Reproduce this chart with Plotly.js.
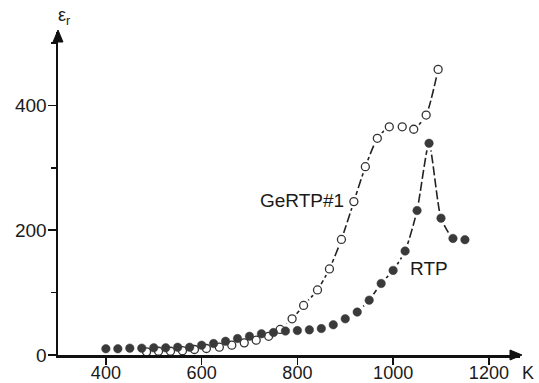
<!DOCTYPE html>
<html>
<head>
<meta charset="utf-8">
<script src="https://cdn.plot.ly/plotly-3.0.1.min.js"></script>
<style>html,body{margin:0;padding:0;background:#fff;}#chart{width:539px;height:383px;}</style>
</head>
<body>
<div id="chart"></div>
<script>
// RTP (filled circles)
const rtpT = [400,425,450,475,500,525,550,575,600,625,650,675,700,725,750,775,800,825,850,875,900,925,950,975,1000,1025,1050,1075,1100,1125,1150];
const rtpE = [10,10,11,11,11.5,11.5,12.5,12.5,15.7,18.4,22,26.4,30,34,36,38.4,39.2,40.3,42.4,48.5,58,68.8,88,114.7,135.7,166.7,231.7,339.5,219.5,187,185];
// GeRTP#1 (open circles)
const gerT = [485,510,535,560,585,610,637,663,689,714,740,764,789,813,842,867,892,918,942,967,992,1019,1043,1069,1094];
const gerE = [5,6,6,7,8.8,10.4,12.5,15.7,19.5,23.7,30,41,58,79.5,104.3,138,185.3,246,302,347.5,366,366,362,384.8,458];
const xTicks = [400,600,800,1000,1200];
const yTicks = [0,200,400];
const rtpLineStart = 18;   // index from which the dashed line is drawn
const gerLineStart = 7;

const FONT = 'Liberation Sans, Arial, Helvetica, sans-serif';
const DASH = '9px,3px';

const traces = [
  {x: gerT.slice(gerLineStart), y: gerE.slice(gerLineStart), mode: 'lines',
   line: {color: '#222', width: 1.6, dash: DASH, shape: 'spline', smoothing: 0.6}, hoverinfo: 'skip'},
  {x: rtpT.slice(rtpLineStart), y: rtpE.slice(rtpLineStart), mode: 'lines',
   line: {color: '#222', width: 1.6, dash: DASH, shape: 'spline', smoothing: 0.6}, hoverinfo: 'skip'},
  // white halos to open gaps in the lines around markers
  {x: gerT, y: gerE, mode: 'markers', marker: {size: 14, color: '#fff', line: {width: 0}}, hoverinfo: 'skip'},
  {x: rtpT, y: rtpE, mode: 'markers', marker: {size: 15, color: '#fff', line: {width: 0}}, hoverinfo: 'skip'},
  {x: gerT, y: gerE, mode: 'markers', name: 'GeRTP#1',
   marker: {size: 8, color: '#fff', line: {color: '#333', width: 1.3}}},
  {x: rtpT, y: rtpE, mode: 'markers', name: 'RTP',
   marker: {size: 8.5, color: '#3a3a3a', line: {color: '#3a3a3a', width: 0.5}}}
];

const layout = {
  width: 539, height: 383,
  margin: {l: 58, r: 19, t: 32, b: 27.5},
  paper_bgcolor: '#fff', plot_bgcolor: '#fff',
  showlegend: false,
  font: {family: FONT, size: 19, color: '#1a1a1a'},
  xaxis: {
    range: [300, 1265], showgrid: false, zeroline: false,
    showline: true, linecolor: '#111', linewidth: 2.5,
    ticks: 'outside', ticklen: 7, tickwidth: 1.6, tickcolor: '#111',
    tickvals: xTicks, ticktext: xTicks.map(String),
    ticklabelstandoff: -7,
    tickfont: {family: FONT, size: 18, color: '#1a1a1a'}
  },
  yaxis: {
    range: [0, 518], showgrid: false, zeroline: false,
    showline: true, linecolor: '#111', linewidth: 2.5,
    ticks: 'outside', ticklen: 8, tickwidth: 1.6, tickcolor: '#111',
    tickvals: yTicks, ticktext: yTicks.map(String),
    ticklabelstandoff: -3,
    minor: {dtick: 100, ticks: 'outside', ticklen: 5, tickwidth: 1.6, tickcolor: '#111', showgrid: false},
    tickfont: {family: FONT, size: 19, color: '#1a1a1a'}
  },
  shapes: [
    // arrow heads on axes (pixel-sized triangles)
    {type: 'path', xref: 'paper', yref: 'paper', xsizemode: 'pixel', ysizemode: 'pixel',
     xanchor: 1, yanchor: 0, path: 'M 2,0 L -10,5 L -10,-5 Z',
     fillcolor: '#111', line: {color: '#111', width: 1}},
    {type: 'path', xref: 'paper', yref: 'paper', xsizemode: 'pixel', ysizemode: 'pixel',
     xanchor: 0, yanchor: 1, path: 'M 0,2 L -5,-10 L 5,-10 Z',
     fillcolor: '#111', line: {color: '#111', width: 1}}
  ],
  annotations: [
    {xref: 'paper', yref: 'paper', x: 0, y: 1, xanchor: 'center', yanchor: 'bottom', xshift: 6, yshift: 2,
     text: 'ε<sub>r</sub>', showarrow: false, font: {family: FONT, size: 18, color: '#1a1a1a'}},
    {xref: 'paper', yref: 'y', x: 1, y: 0, xanchor: 'center', yanchor: 'middle', xshift: 8, yshift: -18,
     text: 'K', showarrow: false, font: {family: FONT, size: 18, color: '#1a1a1a'}},
    {xref: 'x', yref: 'y', x: 902, y: 247, xanchor: 'right', yanchor: 'middle',
     text: 'GeRTP#1', showarrow: false, font: {family: FONT, size: 19, color: '#1a1a1a'}},
    {xref: 'x', yref: 'y', x: 1074, y: 138, xanchor: 'center', yanchor: 'middle',
     text: 'RTP', showarrow: false, font: {family: FONT, size: 19, color: '#1a1a1a'}}
  ]
};

Plotly.newPlot('chart', traces, layout, {staticPlot: true, displayModeBar: false});
</script>
</body>
</html>
